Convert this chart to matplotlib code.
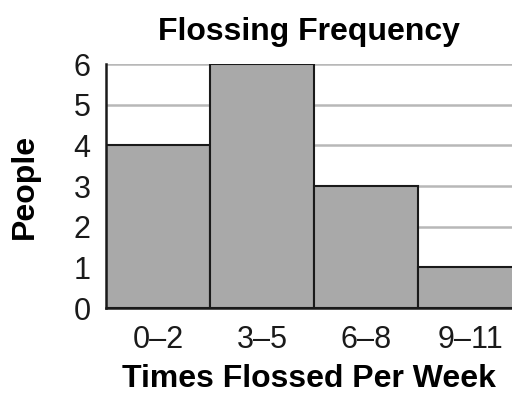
import numpy as np
import matplotlib
matplotlib.use("Agg")
import matplotlib.pyplot as plt

plt.rcParams['font.family'] = ['Liberation Sans', 'DejaVu Sans']

# data
bins = ["0\u20132", "3\u20135", "6\u20138", "9\u201311"]
people = [4, 6, 3, 1]
yticks = [0, 1, 2, 3, 4, 5, 6]

fig = plt.figure(figsize=(5.12, 3.94), dpi=100)
ax = fig.add_axes([106 / 512, 86 / 394, 406 / 512, 244 / 394])

xs = np.arange(len(people))
ax.bar(xs + 0.5, people, width=1.0, color="#a9a9a9", edgecolor="#1a1a1a",
       linewidth=1.5, zorder=3)

ax.set_xlim(0, 3.9)
ax.set_ylim(0, 6)
ax.set_yticks(yticks)
ax.set_xticks(xs + 0.5, bins)
ax.yaxis.grid(True, color="#b8b8b8", linewidth=1.8, zorder=0)
ax.set_axisbelow(True)

ax.tick_params(axis='both', length=0, labelsize=22, colors="#1a1a1a")
ax.tick_params(axis='x', pad=12)
ax.tick_params(axis='y', pad=11)

for s in ["top", "right"]:
    ax.spines[s].set_visible(False)
for s in ["left", "bottom"]:
    ax.spines[s].set_linewidth(1.8)
    ax.spines[s].set_color("#1a1a1a")
    ax.spines[s].set_zorder(4)

ax.set_title("Flossing Frequency", fontsize=23, fontweight="bold", pad=17)
ax.set_xlabel("Times Flossed Per Week", fontsize=23, fontweight="bold", labelpad=7)
ax.set_ylabel("People", fontsize=23, fontweight="bold", labelpad=24)

fig.savefig("out.png", dpi=100)
